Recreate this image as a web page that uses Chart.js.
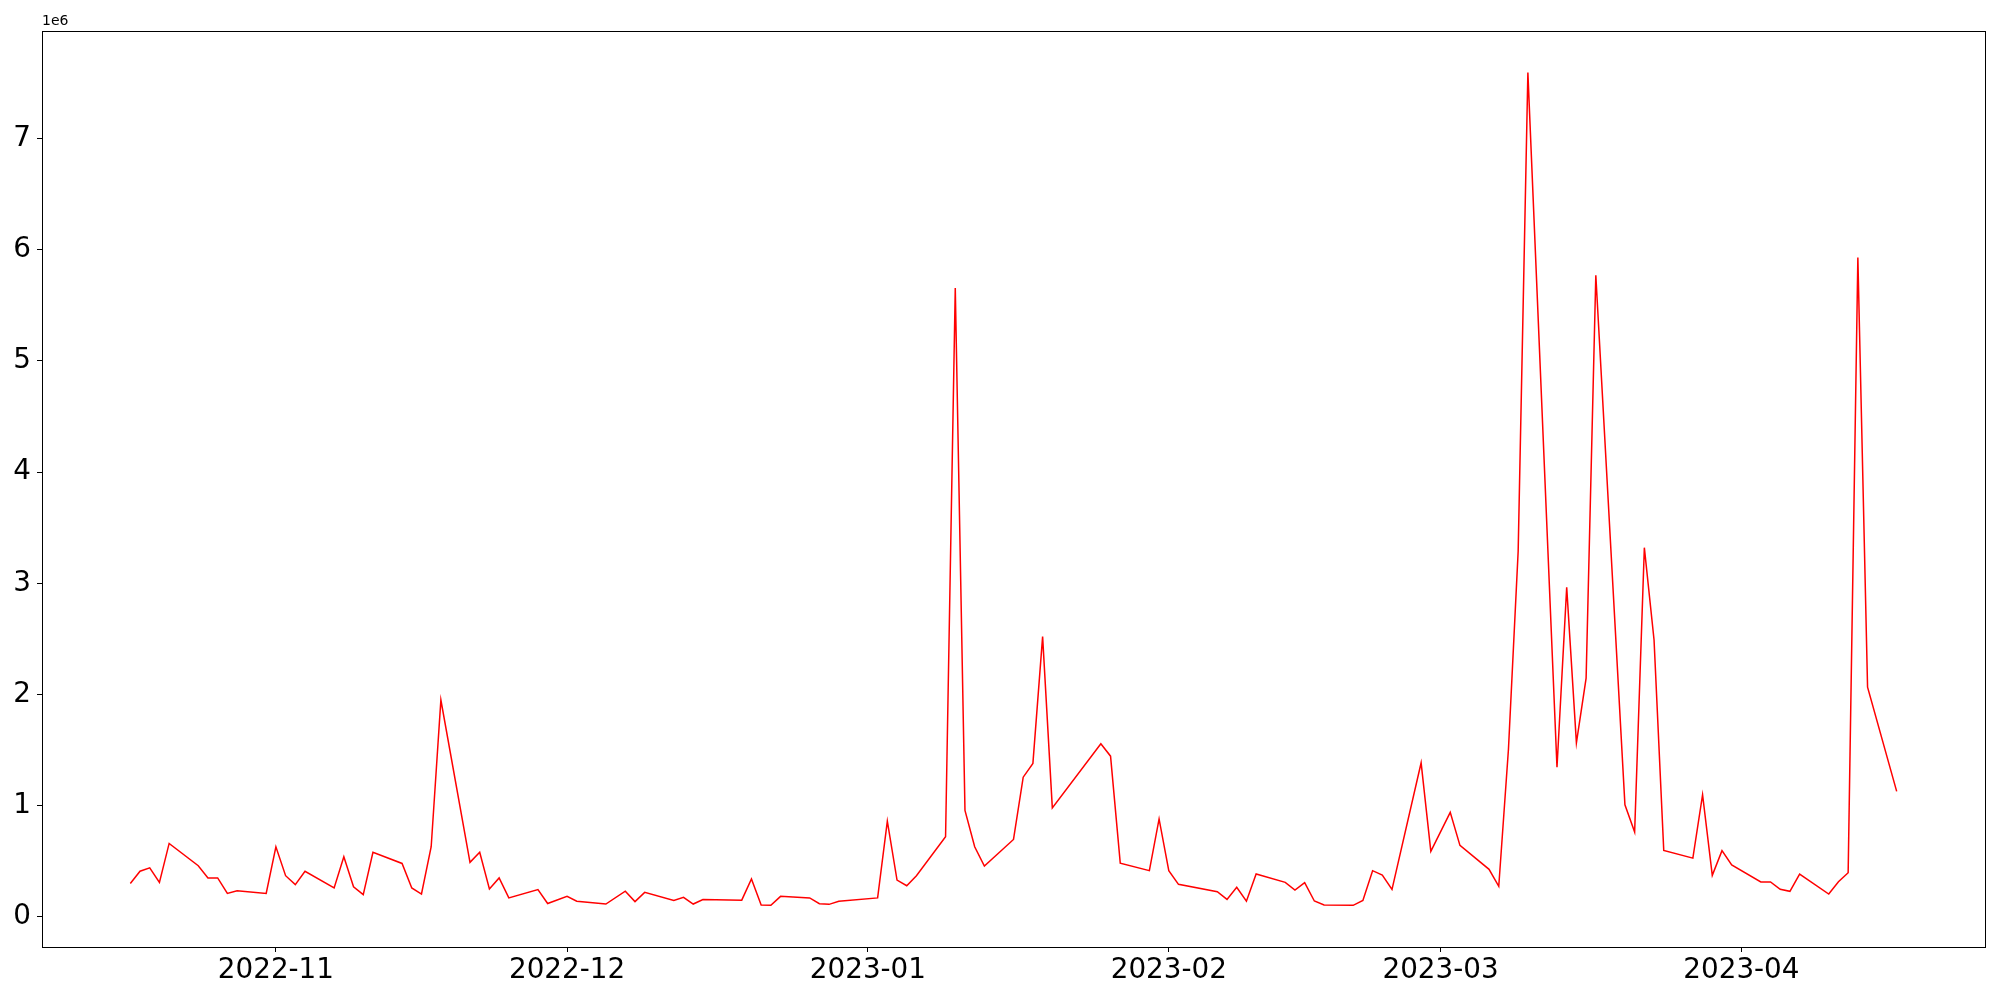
<!DOCTYPE html>
<html>
<head>
<meta charset="utf-8">
<script src="https://cdn.jsdelivr.net/npm/chart.js@4.4.0/dist/chart.umd.min.js"></script>
<style>
  html, body { margin: 0; padding: 0; background: #fff; }
  #wrap { width: 2000px; height: 1000px; }
</style>
</head>
<body>
<div id="wrap"><canvas id="chart" width="2000" height="1000"></canvas></div>
<script>
// dias úteis (datas)
const datas = [
  '2022-10-17','2022-10-18','2022-10-19','2022-10-20','2022-10-21',
  '2022-10-24','2022-10-25','2022-10-26','2022-10-27','2022-10-28',
  '2022-10-31','2022-11-01','2022-11-02','2022-11-03','2022-11-04',
  '2022-11-07','2022-11-08','2022-11-09','2022-11-10','2022-11-11',
  '2022-11-14','2022-11-15','2022-11-16','2022-11-17','2022-11-18',
  '2022-11-21','2022-11-22','2022-11-23','2022-11-24','2022-11-25',
  '2022-11-28','2022-11-29','2022-12-01','2022-12-02',
  '2022-12-05','2022-12-07','2022-12-08','2022-12-09',
  '2022-12-12','2022-12-13','2022-12-14','2022-12-15',
  '2022-12-19','2022-12-20','2022-12-21','2022-12-22','2022-12-23',
  '2022-12-26','2022-12-27','2022-12-28','2022-12-29',
  '2023-01-02','2023-01-03','2023-01-04','2023-01-05','2023-01-06',
  '2023-01-09','2023-01-10','2023-01-11','2023-01-12','2023-01-13',
  '2023-01-16','2023-01-17','2023-01-18','2023-01-19','2023-01-20',
  '2023-01-25','2023-01-26','2023-01-27',
  '2023-01-30','2023-01-31','2023-02-01','2023-02-02',
  '2023-02-06','2023-02-07','2023-02-08','2023-02-09','2023-02-10',
  '2023-02-13','2023-02-14','2023-02-15','2023-02-16','2023-02-17',
  '2023-02-20','2023-02-21','2023-02-22','2023-02-23','2023-02-24',
  '2023-02-27','2023-02-28','2023-03-02','2023-03-03',
  '2023-03-06','2023-03-07','2023-03-08','2023-03-09','2023-03-10',
  '2023-03-13','2023-03-14','2023-03-15','2023-03-16','2023-03-17',
  '2023-03-20','2023-03-21','2023-03-22','2023-03-23','2023-03-24',
  '2023-03-27','2023-03-28','2023-03-29','2023-03-30','2023-03-31',
  '2023-04-03','2023-04-04','2023-04-05','2023-04-06','2023-04-07',
  '2023-04-10','2023-04-11','2023-04-12','2023-04-13','2023-04-14',
  '2023-04-17'
];

// valores em milhões (eixo mostra 1e6)
const valores = [
  0.30, 0.41, 0.44, 0.31, 0.66,
  0.46, 0.35, 0.35, 0.21, 0.235,
  0.21, 0.63, 0.37, 0.29, 0.41,
  0.26, 0.54, 0.27, 0.20, 0.58,
  0.48, 0.26, 0.205, 0.63, 1.95,
  0.49, 0.58, 0.25, 0.35, 0.17,
  0.245, 0.12, 0.185, 0.14,
  0.115, 0.23, 0.137, 0.22,
  0.148, 0.175, 0.115, 0.155,
  0.15, 0.34, 0.106, 0.103, 0.184,
  0.17, 0.118, 0.112, 0.14,
  0.17, 0.86, 0.33, 0.28, 0.37,
  0.72, 5.656, 0.957, 0.63, 0.457,
  0.696, 1.256, 1.38, 2.52, 0.98,
  1.556, 1.445, 0.483,
  0.415, 0.88, 0.415, 0.292,
  0.226, 0.157, 0.265, 0.14, 0.385,
  0.31, 0.241, 0.307, 0.142, 0.106,
  0.103, 0.148, 0.415, 0.376, 0.247,
  1.385, 0.589, 0.94, 0.642,
  0.427, 0.274, 1.51, 3.29, 7.593,
  1.346, 2.963, 1.565, 2.146, 5.77,
  1.008, 0.762, 3.32, 2.49, 0.597,
  0.528, 1.098, 0.373, 0.595, 0.466,
  0.313, 0.313, 0.247, 0.229, 0.385,
  0.205, 0.316, 0.397, 5.93, 2.065,
  1.128
];

const rotulosMeses = ['2022-11', '2022-12', '2023-01', '2023-02', '2023-03', '2023-04'];
const ticksY = [0, 1, 2, 3, 4, 5, 6, 7];

const DIA = 86400000;
function paraDia(s){ return new Date(s + 'T00:00:00Z').getTime() / DIA; }

let pontos = datas.map((d, i) => ({x: paraDia(d), y: valores[i] * 1e6}));

// margens de 5% como no matplotlib
let xs = pontos.map(p => p.x), ys = pontos.map(p => p.y);
let xMin = Math.min(...xs), xMax = Math.max(...xs);
let yMin = Math.min(...ys), yMax = Math.max(...ys);
let padX = (xMax - xMin) * 0.05, padY = (yMax - yMin) * 0.05;

const fonte = "'DejaVu Sans', sans-serif";

const moldura = {
  id: 'moldura',
  afterDraw(chart){
    let {ctx, chartArea: a} = chart;
    ctx.save();
    ctx.strokeStyle = '#000';
    ctx.lineWidth = 1;
    ctx.strokeRect(Math.round(a.left) + 0.5, Math.round(a.top) + 0.5,
                   Math.round(a.right - a.left), Math.round(a.bottom - a.top));
    ctx.fillStyle = '#000';
    ctx.font = '14px ' + fonte;
    ctx.textAlign = 'left';
    ctx.textBaseline = 'bottom';
    ctx.fillText('1e6', a.left, a.top - 3);
    ctx.restore();
  }
};

let ctx = document.getElementById('chart').getContext('2d');
let grafico = new Chart(ctx, {
  type: 'line',
  data: {
    datasets: [{
      data: pontos,
      borderColor: '#ff0000',
      borderWidth: 1.5,
      pointRadius: 0,
      tension: 0,
      fill: false
    }]
  },
  options: {
    responsive: false,
    animation: false,
    events: [],
    layout: {padding: {left: 0, right: 15, top: 31, bottom: 0}},
    plugins: {legend: {display: false}, tooltip: {enabled: false}},
    scales: {
      x: {
        type: 'linear',
        min: xMin - padX,
        max: xMax + padX,
        afterBuildTicks(scale){
          scale.ticks = rotulosMeses.map(m => ({value: paraDia(m + '-01')}));
        },
        afterFit(scale){ scale.height = 53; },
        ticks: {
          callback(v){
            let d = new Date(v * DIA);
            return d.getUTCFullYear() + '-' + String(d.getUTCMonth() + 1).padStart(2, '0');
          },
          color: '#000',
          font: {family: fonte, size: 27.8},
          padding: 2,
          maxRotation: 0,
          autoSkip: false
        },
        grid: {display: true, drawOnChartArea: false, drawTicks: true, tickLength: 5, color: '#000'},
        border: {display: true, color: '#000', width: 1}
      },
      y: {
        type: 'linear',
        min: yMin - padY,
        max: yMax + padY,
        afterBuildTicks(scale){
          scale.ticks = ticksY.map(t => ({value: t * 1e6}));
        },
        afterFit(scale){ scale.width = 42; },
        ticks: {
          callback(v){ return String(Math.round(v / 1e6)); },
          color: '#000',
          font: {family: fonte, size: 27.8},
          padding: 6
        },
        grid: {display: true, drawOnChartArea: false, drawTicks: true, tickLength: 5, color: '#000'},
        border: {display: true, color: '#000', width: 1}
      }
    }
  },
  plugins: [moldura]
});
</script>
</body>
</html>
